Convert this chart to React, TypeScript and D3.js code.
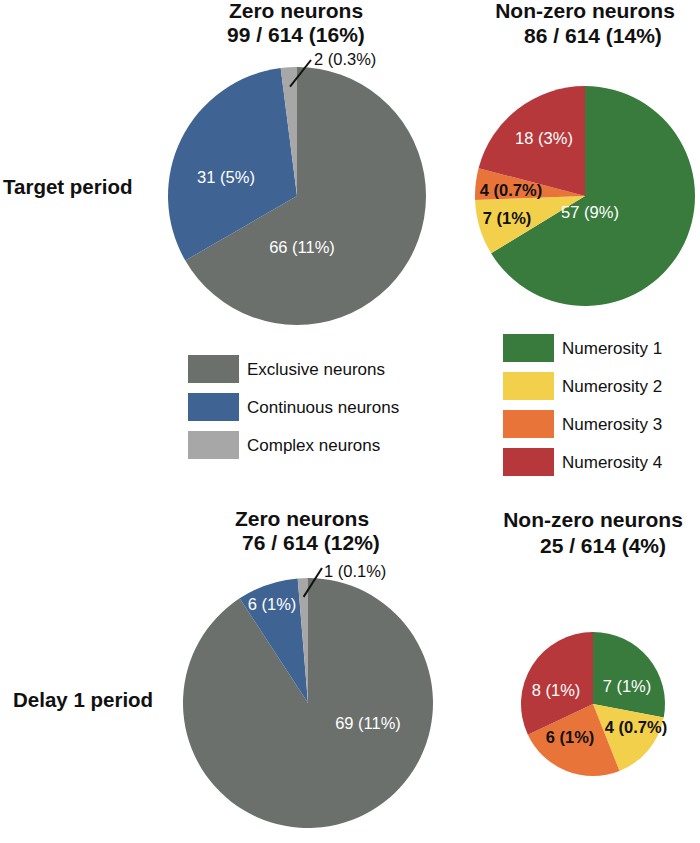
import React from "react";
import * as d3 from "d3";

// ---------- data ----------
const periods = ["Target period", "Delay 1 period"];
const totalNeurons = 614;
const zeroCategories = ["Exclusive neurons", "Continuous neurons", "Complex neurons"];
const nonZeroCategories = ["Numerosity 1", "Numerosity 2", "Numerosity 3", "Numerosity 4"];

const zeroTarget = [66, 31, 2];
const zeroTargetLabels = ["66 (11%)", "31 (5%)", "2 (0.3%)"];
const nonZeroTarget = [57, 7, 4, 18];
const nonZeroTargetLabels = ["57 (9%)", "7 (1%)", "4 (0.7%)", "18 (3%)"];
const zeroDelay = [69, 6, 1];
const zeroDelayLabels = ["69 (11%)", "6 (1%)", "1 (0.1%)"];
const nonZeroDelay = [7, 4, 6, 8];
const nonZeroDelayLabels = ["7 (1%)", "4 (0.7%)", "6 (1%)", "8 (1%)"];

// ---------- styles ----------
const zeroColors = ["#6b706d", "#3f6494", "#a7a7a7"];
const nonZeroColors = ["#387b3d", "#f3d04c", "#e97439", "#b7383a"];
const FONT = "'Liberation Sans', Arial, Helvetica, sans-serif";

type LabelStyle = { dx: number; dy: number; dark?: boolean; outside?: boolean; lx?: number; ly?: number };

type PieSpec = {
  title: string;
  values: number[];
  labels: string[];
  colors: string[];
  cx: number;
  cy: number;
  r: number;
  t1: [number, number];
  t2: [number, number];
  lab: LabelStyle[];
};

const pies: PieSpec[] = [
  {
    title: "Zero neurons", values: zeroTarget, labels: zeroTargetLabels, colors: zeroColors,
    cx: 297, cy: 196, r: 129, t1: [296, 18], t2: [296, 42],
    lab: [
      { dx: 5, dy: 51 },
      { dx: -71, dy: -19 },
      { dx: 17, dy: -131, outside: true, lx: 14, ly: -136 },
    ],
  },
  {
    title: "Non-zero neurons", values: nonZeroTarget, labels: nonZeroTargetLabels, colors: nonZeroColors,
    cx: 585, cy: 196, r: 110, t1: [585, 18], t2: [593, 43],
    lab: [
      { dx: 5, dy: 16 },
      { dx: -78, dy: 22, dark: true },
      { dx: -74, dy: -6, dark: true },
      { dx: -41, dy: -58 },
    ],
  },
  {
    title: "Zero neurons", values: zeroDelay, labels: zeroDelayLabels, colors: zeroColors,
    cx: 308, cy: 703, r: 125, t1: [302, 526], t2: [311, 550],
    lab: [
      { dx: 60, dy: 20 },
      { dx: -36, dy: -99 },
      { dx: 16, dy: -126, outside: true, lx: 14, ly: -135 },
    ],
  },
  {
    title: "Non-zero neurons", values: nonZeroDelay, labels: nonZeroDelayLabels, colors: nonZeroColors,
    cx: 593, cy: 704, r: 72, t1: [593, 527], t2: [603, 553],
    lab: [
      { dx: 34, dy: -18 },
      { dx: 43, dy: 23, dark: true },
      { dx: -23, dy: 33, dark: true },
      { dx: -37, dy: -14 },
    ],
  },
];

function Pie({ spec }: { spec: PieSpec }) {
  const pie = d3.pie<number>().sort(null).value((d) => d);
  const arcs = pie(spec.values);
  const arc = d3.arc<d3.PieArcDatum<number>>().innerRadius(0).outerRadius(spec.r);
  const inner = d3.arc<d3.PieArcDatum<number>>().innerRadius(spec.r * 0.85).outerRadius(spec.r * 0.85);
  const sum = d3.sum(spec.values);
  const pct = Math.round((sum / totalNeurons) * 100);
  return (
    <g>
      <text x={spec.t1[0]} y={spec.t1[1]} textAnchor="middle" fontWeight="bold" fontSize={21} fill="#111">
        {spec.title}
      </text>
      <text x={spec.t2[0]} y={spec.t2[1]} textAnchor="middle" fontWeight="bold" fontSize={21} fill="#111">
        {`${sum} / ${totalNeurons} (${pct}%)`}
      </text>
      <g transform={`translate(${spec.cx},${spec.cy})`}>
        {arcs.map((a, i) => (
          <path key={i} d={arc(a) || ""} fill={spec.colors[i]} />
        ))}
        {arcs.map((a, i) => {
          const l = spec.lab[i];
          if (l.outside) {
            const [px, py] = inner.centroid(a);
            return (
              <g key={"l" + i}>
                <line x1={px} y1={py} x2={l.lx} y2={l.ly} stroke="#111" strokeWidth={2} />
                <text x={l.dx} y={l.dy} fontSize={16.5} fill="#111">
                  {spec.labels[i]}
                </text>
              </g>
            );
          }
          return (
            <text
              key={"l" + i}
              x={l.dx}
              y={l.dy}
              textAnchor="middle"
              dominantBaseline="central"
              fontSize={16.5}
              fontWeight={l.dark ? "bold" : "normal"}
              fill={l.dark ? "#111" : "#ffffff"}
            >
              {spec.labels[i]}
            </text>
          );
        })}
      </g>
    </g>
  );
}

function Legend({ x, y, items, colors }: { x: number; y: number; items: string[]; colors: string[] }) {
  const band = d3.scaleBand<number>().domain(d3.range(items.length)).range([y, y + 38 * items.length]);
  return (
    <g>
      {items.map((it, i) => (
        <g key={it}>
          <rect x={x} y={band(i)!} width={51} height={28} fill={colors[i]} />
          <text x={x + 59} y={band(i)! + 14} dominantBaseline="central" fontSize={17} fill="#111">
            {it}
          </text>
        </g>
      ))}
    </g>
  );
}

export default function App() {
  return (
    <svg
      width={700}
      height={843}
      style={{ position: "absolute", left: 0, top: 0, background: "#fff" }}
      fontFamily={FONT}
    >
      <rect width={700} height={843} fill="#fff" />
      <text x={3} y={194} fontWeight="bold" fontSize={20.5} fill="#111">{periods[0]}</text>
      <text x={13} y={707} fontWeight="bold" fontSize={20.5} fill="#111">{periods[1]}</text>
      {pies.map((p, i) => (
        <Pie key={i} spec={p} />
      ))}
      <Legend x={188} y={355} items={zeroCategories} colors={zeroColors} />
      <Legend x={503} y={334} items={nonZeroCategories} colors={nonZeroColors} />
    </svg>
  );
}
